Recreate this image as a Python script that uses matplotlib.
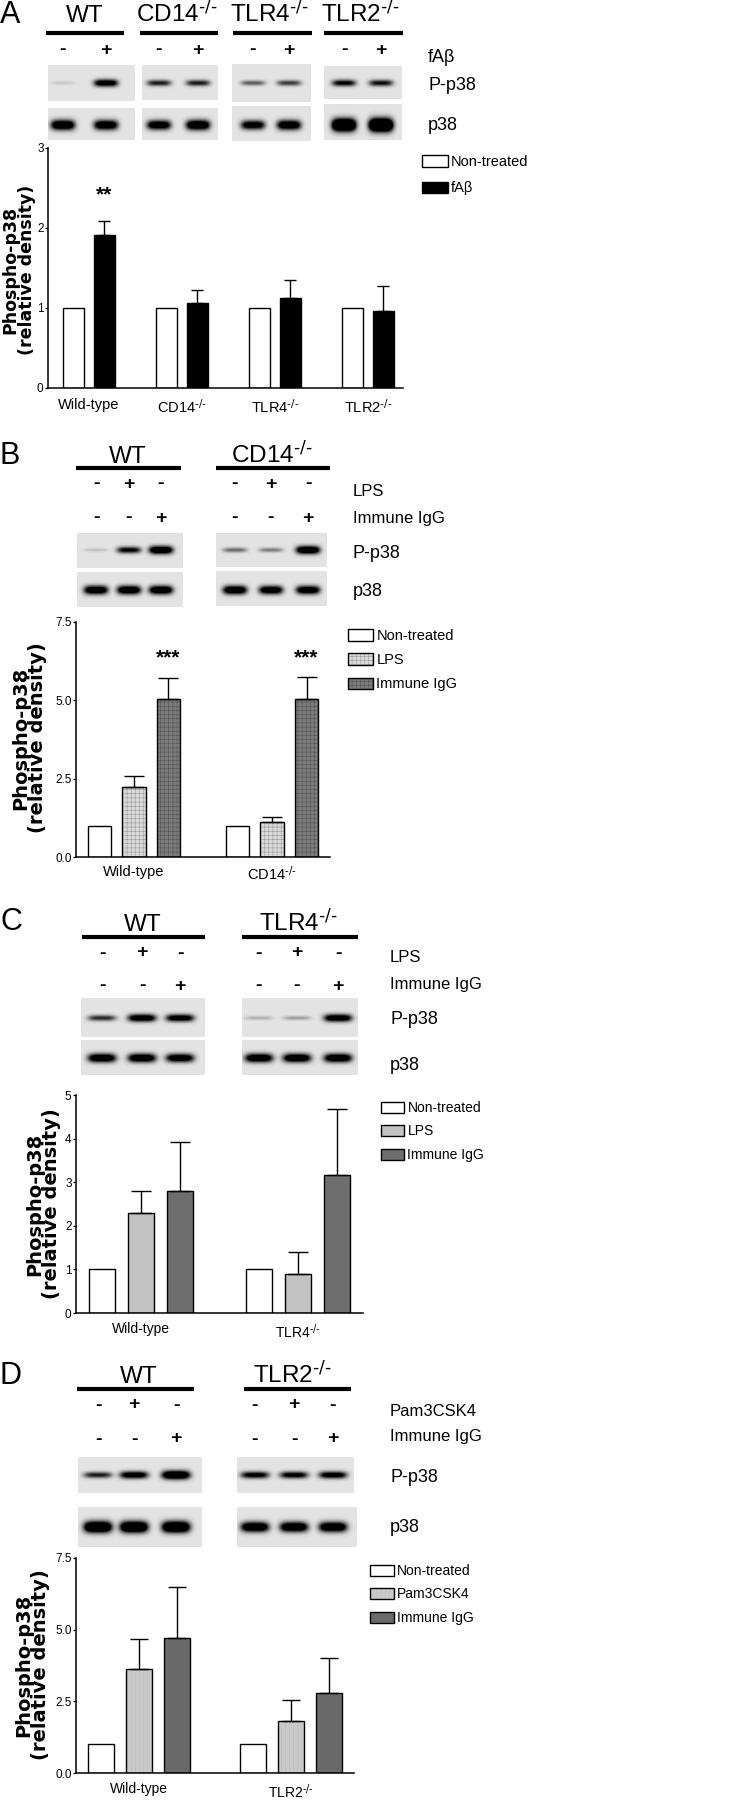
import numpy as np
import matplotlib
matplotlib.use('Agg')
import matplotlib.pyplot as plt
from matplotlib import font_manager

# narrow face if there is one, the figure text is condensed
names = {f.name for f in font_manager.fontManager.ttflist}
NARROW = 'Liberation Sans Narrow' if 'Liberation Sans Narrow' in names else 'Liberation Sans'
plt.rcParams['font.family'] = [NARROW, 'DejaVu Sans']
plt.rcParams['mathtext.default'] = 'regular'
plt.rcParams['hatch.linewidth'] = 0.4

KO = r'$^{\text{-/-}}$'

# ---------------- data ----------------
# Panel A: fAbeta
a_heads = ['WT', 'CD14' + KO, 'TLR4' + KO, 'TLR2' + KO]
a_groups = ['Wild-type', 'CD14' + KO, 'TLR4' + KO, 'TLR2' + KO]
a_ctrl = [1, 1, 1, 1]
a_fab = [1.91, 1.06, 1.13, 0.96]
a_fab_err = [0.18, 0.16, 0.22, 0.31]
a_fab_sign = ['-', '+']
a_pp38 = [[0.08, 0.85], [0.6, 0.6], [0.4, 0.5], [0.7, 0.65]]
a_p38 = [[1.0, 0.95], [0.9, 1.0], [0.85, 0.95], [1.4, 1.5]]

# Panel B: LPS / immune IgG, CD14
b_heads = ['WT', 'CD14' + KO]
b_groups = ['Wild-type', 'CD14' + KO]
b_ctrl = [1, 1]
b_lps = [2.25, 1.12]
b_lps_err = [0.35, 0.16]
b_igg = [5.05, 5.05]
b_igg_err = [0.65, 0.68]
b_lps_sign = ['-', '+', '-']
b_igg_sign = ['-', '-', '+']
b_pp38 = [[0.1, 0.7, 1.0], [0.35, 0.3, 1.0]]
b_p38 = [[0.95, 0.95, 0.95], [0.95, 0.9, 0.9]]

# Panel C: LPS / immune IgG, TLR4
c_heads = ['WT', 'TLR4' + KO]
c_groups = ['Wild-type', 'TLR4' + KO]
c_ctrl = [1, 1]
c_lps = [2.3, 0.9]
c_lps_err = [0.5, 0.5]
c_igg = [2.8, 3.17]
c_igg_err = [1.13, 1.51]
c_lps_sign = ['-', '+', '-']
c_igg_sign = ['-', '-', '+']
c_pp38 = [[0.55, 0.9, 0.85], [0.15, 0.2, 0.9]]
c_p38 = [[0.95, 0.95, 0.9], [0.95, 0.95, 0.95]]

# Panel D: Pam3CSK4 / immune IgG, TLR2
d_heads = ['WT', 'TLR2' + KO]
d_groups = ['Wild-type', 'TLR2' + KO]
d_ctrl = [1, 1]
d_pam = [3.63, 1.8]
d_pam_err = [1.04, 0.75]
d_igg = [4.72, 2.8]
d_igg_err = [1.76, 1.22]
d_pam_sign = ['-', '+', '-']
d_igg_sign = ['-', '-', '+']
d_pp38 = [[0.6, 0.85, 1.1], [0.75, 0.75, 0.8]]
d_p38 = [[1.2, 1.2, 1.2], [1.0, 1.0, 1.0]]

# ---------------- figure ----------------
W, H = 730, 1800
fig = plt.figure(figsize=(W / 100, H / 100), dpi=100)
ov = fig.add_axes([0, 0, 1, 1])
ov.axis('off')


def px_axes(x0, y0, x1, y1):
    return fig.add_axes([x0 / W, 1 - y1 / H, (x1 - x0) / W, (y1 - y0) / H])


def blot(box, lanes, dens, yc, hw, hh, bg=0.89):
    x0, x1, y0, y1 = box
    X, Y = np.meshgrid(np.arange(x0, x1) + 0.5, np.arange(y0, y1) + 0.5)
    dark = np.zeros(X.shape)
    for cx, d in zip(lanes, dens):
        prof = np.exp(-np.abs((X - cx) / hw) ** 4) * np.exp(-((Y - yc) / (hh * (0.4 + 0.6 * d))) ** 2)
        dark += 1.5 * d * prof
    img = bg * (1 - np.clip(dark, 0, 1))
    ov.imshow(img, cmap='gray', vmin=0, vmax=1, extent=(x0, x1, y1, y0),
              aspect='auto', interpolation='bilinear', zorder=1)


def header(x, y, txt, x0, x1, yl):
    ov.text(x, y, txt, ha='center', va='baseline', fontsize=17.5)
    ov.plot([x0, x1], [yl, yl], color='black', lw=3, solid_capstyle='butt')


def signs(xs, y, marks):
    for x, m in zip(xs, marks):
        ov.text(x, y, m, ha='center', va='center', fontsize=14, fontweight='bold')


def ylab(x, y, fs=14):
    ov.text(x, y, 'Phospho-p38\n(relative density)', rotation=90, ha='center', va='center',
            family='DejaVu Sans', fontweight='bold', fontsize=fs, linespacing=0.88)


def bars(ax, x, vals, errs, width, fc, hatch=None, hc='black', capsize=5):
    x = np.asarray(x, float)
    vals = np.asarray(vals, float)
    errs = np.asarray(errs, float)
    if hatch:
        fill = ax.bar(x, vals, width, color=fc, edgecolor=hc, hatch=hatch, lw=0, zorder=2)
    else:
        fill = ax.bar(x, vals, width, color=fc, lw=0, zorder=2)
    edge = ax.bar(x, vals, width, fill=False, edgecolor='black', lw=1, zorder=3)
    m = errs > 0
    if m.any():
        ax.errorbar(x[m], vals[m], yerr=[np.zeros(m.sum()), errs[m]], fmt='none',
                    ecolor='black', elinewidth=1, capsize=capsize, capthick=1, zorder=4)
    return (fill.patches[0], edge.patches[0])


def style(ax, groups, ylim, yticks, fmt, xfs, pad):
    ax.set_ylim(*ylim)
    ax.set_yticks(yticks)
    ax.set_yticklabels([fmt.format(t) for t in yticks])
    ax.set_xticks(np.arange(len(groups)))
    ax.set_xticklabels(groups)
    for s in ['top', 'right']:
        ax.spines[s].set_visible(False)
    for s in ['left', 'bottom']:
        ax.spines[s].set_linewidth(1.1)
    ax.tick_params(axis='x', length=0, pad=pad, labelsize=xfs)
    ax.tick_params(axis='y', direction='out', length=2.2, width=0.9, labelsize=8.5, pad=1)
    ax.patch.set_alpha(0)


def legend(ax, handles, labels, x, y, fs, hl, ls):
    ax.legend(handles, labels, loc='upper left', bbox_to_anchor=(x / W, 1 - y / H),
              bbox_transform=fig.transFigure, frameon=False, borderpad=0, borderaxespad=0,
              fontsize=fs, handlelength=hl, handleheight=0.85, handletextpad=0.25,
              labelspacing=ls)


# ================= Panel A =================
ov.text(0, 15, 'A', ha='left', va='center', fontsize=22)
a_hx = [85, 177, 269, 360]
a_ul = [(46, 124), (140, 218), (233, 312), (324, 403)]
a_lanes = [[63, 106], [159, 198], [253, 289], [344, 381]]
a_pbox = [(48, 135, 65, 101), (142, 218, 65, 100), (232, 311, 64, 102), (324, 402, 66, 99)]
a_tbox = [(48, 135, 108, 140), (142, 218, 108, 140), (232, 311, 106, 141), (324, 402, 104, 140)]
for i in range(4):
    header(a_hx[i], 22, a_heads[i], *a_ul[i], 32.5)
    signs(a_lanes[i], 50, a_fab_sign)
    blot(a_pbox[i], a_lanes[i], a_pp38[i], 83, 12, 4)
    blot(a_tbox[i], a_lanes[i], a_p38[i], 125, 12, 5)
ov.text(428, 57, 'fAβ', ha='left', va='center', fontsize=13)
ov.text(428, 85, 'P-p38', ha='left', va='center', fontsize=13)
ov.text(428, 125, 'p38', ha='left', va='center', fontsize=13)

axA = px_axes(48, 148, 403, 388)
xa = np.arange(len(a_groups))
hA1 = bars(axA, xa - 0.167, a_ctrl, [0, 0, 0, 0], 0.226, 'white', capsize=4.3)
hA2 = bars(axA, xa + 0.167, a_fab, a_fab_err, 0.226, 'black', capsize=4.3)
axA.set_xlim(-0.44, 3.38)
style(axA, a_groups, (0, 3), [0, 1, 2, 3], '{:.0f}', 10.5, 7.5)
axA.text(0.167, a_fab[0] + a_fab_err[0] + 0.32, '**', ha='center', va='center',
         fontsize=15, fontweight='bold')
legend(axA, [hA1, hA2], ['Non-treated', 'fAβ'], 422, 155, 10.5, 1.75, 0.85)
ylab(19, 270, 12.5)

# ================= Panel B =================
ov.text(0, 456, 'B', ha='left', va='center', fontsize=22)
b_hx = [128, 272]
b_ul = [(76, 181), (216, 330)]
b_lanes = [[96, 129, 161], [235, 271, 308]]
b_pbox = [(77, 183, 533, 568), (216, 327, 533, 567)]
b_tbox = [(77, 183, 572, 607), (216, 327, 571, 606)]
for i in range(2):
    header(b_hx[i], 463, b_heads[i], *b_ul[i], 467.5)
    signs(b_lanes[i], 484, b_lps_sign)
    signs(b_lanes[i], 518, b_igg_sign)
    blot(b_pbox[i], b_lanes[i], b_pp38[i], 550, 12, 4)
    blot(b_tbox[i], b_lanes[i], b_p38[i], 590, 12, 4.5)
ov.text(353, 492, 'LPS', ha='left', va='center', fontsize=12)
ov.text(353, 518, 'Immune IgG', ha='left', va='center', fontsize=12)
ov.text(353, 553, 'P-p38', ha='left', va='center', fontsize=13)
ov.text(353, 592, 'p38', ha='left', va='center', fontsize=13)

axB = px_axes(76, 622, 330, 857)
xb = np.arange(len(b_groups))
hB1 = bars(axB, xb - 0.25, b_ctrl, [0, 0], 0.167, 'white', capsize=7)
hB2 = bars(axB, xb, b_lps, b_lps_err, 0.167, '#dadada', hatch='++++', hc='#9a9a9a', capsize=7)
hB3 = bars(axB, xb + 0.25, b_igg, b_igg_err, 0.167, '#7c7c7c', hatch='++++', hc='#545454', capsize=7)
axB.set_xlim(-0.42, 1.42)
style(axB, b_groups, (0, 7.5), [0, 2.5, 5, 7.5], '{:.1f}', 10.5, 5.5)
for i in range(2):
    axB.text(xb[i] + 0.25, 6.37, '***', ha='center', va='center', fontsize=15, fontweight='bold')
legend(axB, [hB1, hB2, hB3], ['Non-treated', 'LPS', 'Immune IgG'], 348, 629, 10.5, 1.7, 0.7)
ylab(29, 738)

# ================= Panel C =================
ov.text(0, 922, 'C', ha='left', va='center', fontsize=22)
c_hx = [143, 298]
c_ul = [(82, 205), (242, 358)]
c_lanes = [[102, 142, 180], [259, 297, 338]]
c_pbox = [(81, 205, 998, 1037), (242, 358, 998, 1037)]
c_tbox = [(81, 205, 1040, 1075), (242, 358, 1040, 1075)]
for i in range(2):
    header(c_hx[i], 931, c_heads[i], *c_ul[i], 937)
    signs(c_lanes[i], 953, c_lps_sign)
    signs(c_lanes[i], 986, c_igg_sign)
    blot(c_pbox[i], c_lanes[i], c_pp38[i], 1018, 14, 4)
    blot(c_tbox[i], c_lanes[i], c_p38[i], 1058, 14, 4.5)
ov.text(390, 958, 'LPS', ha='left', va='center', fontsize=12)
ov.text(390, 985, 'Immune IgG', ha='left', va='center', fontsize=12)
ov.text(390, 1019, 'P-p38', ha='left', va='center', fontsize=13)
ov.text(390, 1065, 'p38', ha='left', va='center', fontsize=13)

axC = px_axes(76, 1095, 363, 1313)
xc = np.arange(len(c_groups))
hC1 = bars(axC, xc - 0.248, c_ctrl, [0, 0], 0.166, 'white', capsize=7)
hC2 = bars(axC, xc, c_lps, c_lps_err, 0.166, '#c2c2c2', capsize=7)
hC3 = bars(axC, xc + 0.248, c_igg, c_igg_err, 0.166, '#6e6e6e', capsize=7)
axC.set_xlim(-0.414, 1.414)
style(axC, c_groups, (0, 5), [0, 1, 2, 3, 4, 5], '{:.0f}', 10, 6.5)
legend(axC, [hC1, hC2, hC3], ['Non-treated', 'LPS', 'Immune IgG'], 381, 1101, 10, 1.65, 0.68)
ylab(43, 1204)

# ================= Panel D =================
ov.text(0, 1376, 'D', ha='left', va='center', fontsize=22)
d_hx = [139, 292]
d_ul = [(77, 194), (244, 351)]
d_lanes = [[98, 134, 176], [255, 294, 333]]
d_pbox = [(78, 202, 1457, 1493), (237, 354, 1457, 1493)]
d_tbox = [(78, 202, 1507, 1547), (237, 357, 1507, 1547)]
for i in range(2):
    header(d_hx[i], 1383, d_heads[i], *d_ul[i], 1388.5)
    signs(d_lanes[i], 1405, d_pam_sign)
    signs(d_lanes[i], 1439, d_igg_sign)
    blot(d_pbox[i], d_lanes[i], d_pp38[i], 1475, 14, 4)
    blot(d_tbox[i], d_lanes[i], d_p38[i], 1527, 14, 5)
ov.text(390, 1412, 'Pam3CSK4', ha='left', va='center', fontsize=12)
ov.text(390, 1437, 'Immune IgG', ha='left', va='center', fontsize=12)
ov.text(390, 1477, 'P-p38', ha='left', va='center', fontsize=13)
ov.text(390, 1528, 'p38', ha='left', va='center', fontsize=13)

axD = px_axes(76, 1558, 354, 1773)
xd = np.arange(len(d_groups))
hD1 = bars(axD, xd - 0.25, d_ctrl, [0, 0], 0.17, 'white', capsize=6.5)
hD2 = bars(axD, xd, d_pam, d_pam_err, 0.17, '#cacaca', hatch='||||', hc='#bcbcbc', capsize=6.5)
hD3 = bars(axD, xd + 0.25, d_igg, d_igg_err, 0.17, '#6a6a6a', capsize=6.5)
axD.set_xlim(-0.414, 1.414)
style(axD, d_groups, (0, 7.5), [0, 2.5, 5, 7.5], '{:.1f}', 10, 6.5)
legend(axD, [hD1, hD2, hD3], ['Non-treated', 'Pam3CSK4', 'Immune IgG'], 370, 1564, 10, 1.7, 0.68)
ylab(32, 1665)

ov.set_xlim(0, W)
ov.set_ylim(H, 0)

fig.savefig('out.png', dpi=100)
